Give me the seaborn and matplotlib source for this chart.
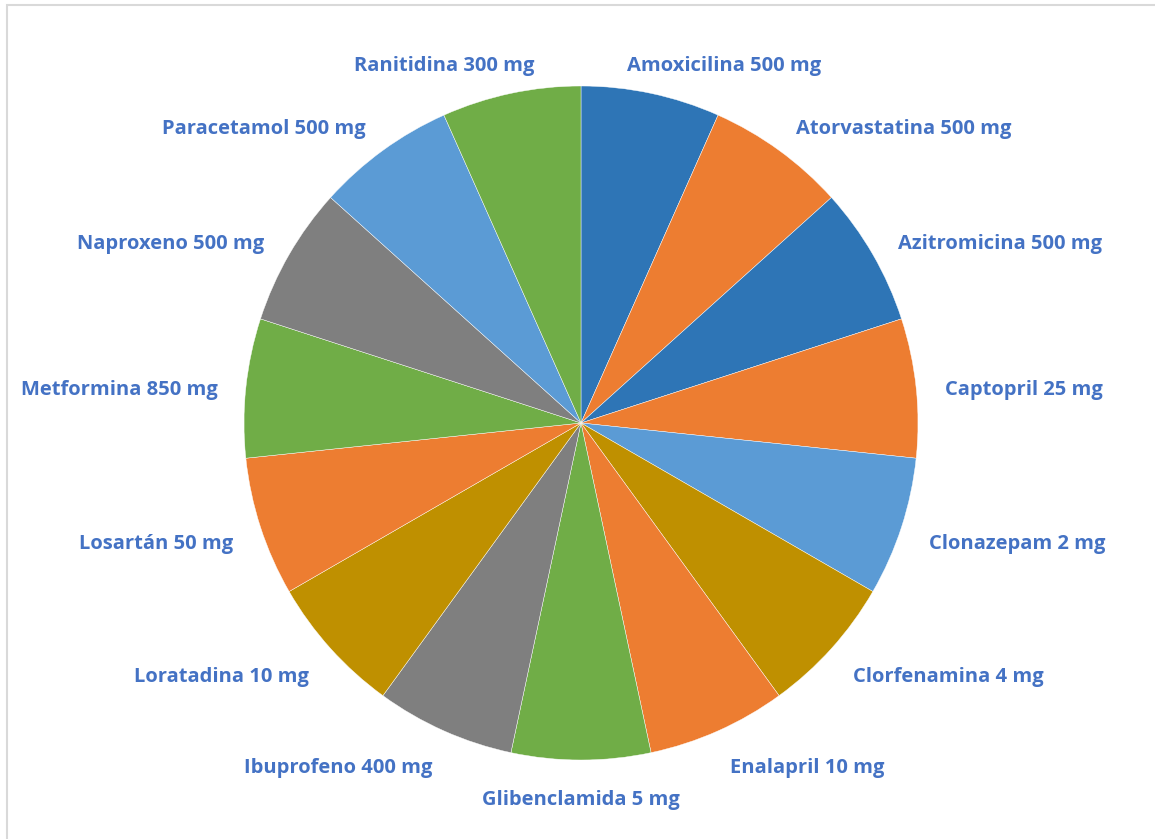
import numpy as np
import matplotlib
matplotlib.use("Agg")
import matplotlib.pyplot as plt
import seaborn as sns
from matplotlib.patches import Rectangle

# ---- data ----
labels = ["Amoxicilina 500 mg", "Atorvastatina 500 mg", "Azitromicina 500 mg",
          "Captopril 25 mg", "Clonazepam 2 mg", "Clorfenamina 4 mg",
          "Enalapril 10 mg", "Glibenclamida 5 mg", "Ibuprofeno 400 mg",
          "Loratadina 10 mg", "Losartán 50 mg", "Metformina 850 mg",
          "Naproxeno 500 mg", "Paracetamol 500 mg", "Ranitidina 300 mg"]
values = [1, 1, 1, 1, 1, 1, 1, 1, 1, 1, 1, 1, 1, 1, 1]
colors = ["#2E75B6", "#ED7D31", "#2E75B6", "#ED7D31", "#5B9BD5", "#BF9000",
          "#ED7D31", "#70AD47", "#7F7F7F", "#BF9000", "#ED7D31", "#70AD47",
          "#7F7F7F", "#5B9BD5", "#70AD47"]

sns.set_theme(style="white")
plt.rcParams["font.family"] = ["Open Sans", "DejaVu Sans"]

W, H = 1155, 839
fig = plt.figure(figsize=(W / 100, H / 100), dpi=100)
fig.patch.set_facecolor("white")

# pie centre and radius in pixels
cx, cy, R = 581, 423, 337
ax = fig.add_axes([0, 0, 1, 1])

wedges, _ = ax.pie(values, colors=colors, startangle=90, counterclock=False,
                   radius=1.0, center=(0, 0),
                   wedgeprops=dict(edgecolor="white", linewidth=0.3))

ax.set_xlim(-cx / R, (W - cx) / R)
ax.set_ylim(-(H - cy) / R, cy / R)
ax.set_aspect("auto")
ax.axis("off")

label_color = "#4472C4"
rx, ry = 1.085, 1.1
for w, lab in zip(wedges, labels):
    th = np.deg2rad((w.theta1 + w.theta2) / 2)
    c, s = np.cos(th), np.sin(th)
    x, y = rx * c, ry * s - 0.018
    if c > 0.15:
        ha = "left"
    elif c < -0.15:
        ha = "right"
    else:
        ha = "center"
    # labels close to the top are slid toward the middle
    if 0.15 < abs(c) < 0.3 and s > 0:
        x -= np.sign(c) * 0.088
    ax.text(x, y, lab, ha=ha, va="center", fontsize=14.5, fontweight="bold",
            color=label_color)

# chart border
fig.patches.append(Rectangle((7 / W, -0.1), 1.2, 1 - 5 / H + 0.1,
                             transform=fig.transFigure, fill=False,
                             edgecolor="#D9D9D9", linewidth=1.5))

fig.savefig("out.png", dpi=100, facecolor="white")
